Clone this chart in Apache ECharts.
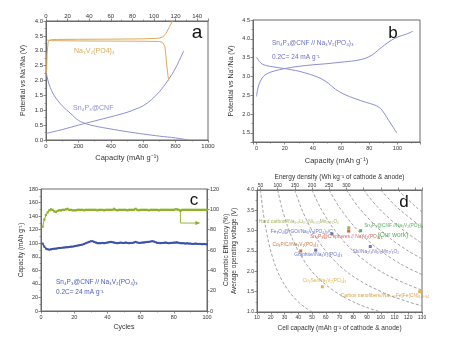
<!DOCTYPE html>
<html><head><meta charset="utf-8">
<script src="https://cdn.jsdelivr.net/npm/echarts@6/dist/echarts.min.js"></script>
<style>html,body{margin:0;padding:0;background:#fff}#c{width:451px;height:337px}</style>
</head><body><div id="c"></div>
<script>
// ---------- Panel a ----------
const aNvpCharge = [[0.5,2.25],[1,2.9],[2,3.3],[4,3.37],[10,3.38],[30,3.385],[60,3.39],[90,3.40],[104,3.42],[108,3.46],[111,3.58],[114,3.78],[117,4.0]];
const aNvpDischarge = [[1,3.36],[5,3.34],[30,3.33],[60,3.325],[90,3.32],[105,3.31],[108,3.28],[110,3.15],[111,2.85],[112,2.45],[113.5,2.0]];
const aSnDischarge = [[0,2.3],[10,2.05],[20,1.85],[50,1.5],[100,1.15],[150,0.9],[200,0.66],[250,0.54],[300,0.47],[400,0.37],[500,0.28],[600,0.2],[700,0.13],[800,0.07],[880,0.0]];
const aSnCharge = [[0,0.22],[100,0.35],[200,0.5],[300,0.64],[400,0.78],[500,0.93],[550,1.03],[600,1.15],[650,1.35],[700,1.62],[750,1.98],[800,2.42],[850,3.0]];
// ---------- Panel b ----------
const bCharge = [[0,2.47],[1,2.7],[2.4,2.85],[4,2.96],[6,3.04],[9,3.1],[13,3.15],[20,3.21],[30,3.27],[40,3.31],[50,3.34],[60,3.38],[70,3.42],[77,3.48],[82,3.57],[86,3.69],[91,3.84],[96,3.97],[101,4.06],[106,4.12],[111,4.2]];
const bDischarge = [[0,3.51],[2,3.4],[4,3.33],[7,3.29],[11,3.26],[20,3.21],[30,3.14],[40,3.03],[46,2.94],[51,2.82],[56,2.66],[62,2.53],[70,2.41],[78,2.31],[84,2.24],[88,2.15],[91,2.0],[94,1.82],[97,1.65],[99.5,1.5]];
// ---------- Panel c ----------
const cCapacity = [99.5,95,92,91,90.5,91,91.5,92,92,92.5,
 93,93,93.5,93.5,94,94,94.5,95,95,95.5,
 96,96.5,97,97.5,98,99,100,101,102,103,
 103,102,101,100,100,100,100.5,100,100.5,101,
 101.5,102,101.5,101,100.5,100,100.5,101,100.5,100.5,
 101,100.5,100,100.5,100.5,101,102,101,100.5,100.5,
 101,101,101.5,102,102,102.5,103,102.5,101.5,100.5,
 100.5,100,100.5,100.5,101,100.5,100,100.5,100.5,101,
 101,101.5,100.5,100,100,100,99.5,100,99.5,99.5,
 99,99,99.5,99,99,99,98.5,99,98.5,98.5];
const cEfficiency = [83,90,94.5,97,99,100,99.5,98,97.5,98.5,
 99,99,99.5,99.5,100,100.5,99.5,99.5,99,99,
 99,99.5,99.5,99.5,99.5,99,99.5,99.5,99.5,99.5,
 99.5,99.5,99.5,99,99.5,99.5,99.5,99,99.5,99.5,
 99.5,99.5,99.5,100.5,99.5,99,99.5,99.5,99.5,99.5,
 99.5,99,99.5,99.5,99.5,99.5,100.5,99.5,99,99.5,
 99.5,99.5,99.5,99.5,99,99.5,99.5,99.5,99.5,99.5,
 99,99.5,99.5,99.5,99.5,99.5,99.5,99.5,99.5,99.5,
 100,100,99.5,98.5,99.5,99.5,99.5,99.5,99.5,99.5,
 99.5,99.5,99.5,99.5,99.5,99.5,99.5,99.5,99.5,99.5];
const cArrow = [[84,98.5],[84,86.5],[94.5,86.5]];
// ---------- Panel d ----------
const dIsoEnergy = {
  50:[[12.5,4],[14,3.57],[16,3.13],[18,2.78],[20,2.5],[23,2.17],[26,1.92],[30,1.67],[35,1.43],[40,1.25],[45,1.11],[50,1]],
  100:[[25,4],[28,3.57],[32,3.13],[36,2.78],[40,2.5],[46,2.17],[52,1.92],[60,1.67],[70,1.43],[80,1.25],[90,1.11],[100,1]],
  150:[[37.5,4],[42,3.57],[48,3.13],[54,2.78],[60,2.5],[69,2.17],[78,1.92],[90,1.67],[105,1.43],[120,1.25],[130,1.15]],
  200:[[50,4],[56,3.57],[64,3.13],[72,2.78],[80,2.5],[92,2.17],[104,1.92],[120,1.67],[130,1.54]],
  250:[[62.5,4],[70,3.57],[80,3.13],[90,2.78],[100,2.5],[115,2.17],[130,1.92]],
  300:[[75,4],[84,3.57],[96,3.13],[108,2.78],[120,2.5],[130,2.31]],
  350:[[87.5,4],[98,3.57],[112,3.13],[126,2.78],[130,2.69]],
  400:[[100,4],[112,3.57],[128,3.13],[130,3.08]],
  450:[[112.5,4],[126,3.57],[130,3.46]]
};
const dPointCap  = [76.7, 76.7, 85.4, 64.5, 41.8, 52.7, 92.4, 57.5, 128.3];
const dPointVolt = [3.07, 2.99, 3.0, 2.92, 2.5, 2.52, 2.61, 1.62, 1.5];
const dPointColor = ['#8a9a2a','#c0392b','#2e9a3a','#3c50b0','#b5561d','#3c50b0','#5a4fa8','#d9a020','#d9a020'];
const dLabelText = ['Hard carbon//Na₁.₀Li₀.₂Ni₀.₂₅Mn₀.₇₅O₂','Sn₄P₃@C spheres // Na₃V₂(PO₄)₃','Sn₄P₃@CNF //Na₃V₂(PO₄)₃','Fe₃O₄@rGO//Na₃V₂(PO₄)₃/C','Co₃P/C//Na₃V₂(PO₄)₃','Graphite//Na₃V₂(PO₄)₃','Sb//Na₂/₃Ni₁/₃Mn₂/₃O₂','Cu₂Se//Na₃V₂(PO₄)₃','Carbon nanofibers//Na₀.₆₁Fe[Fe(CN)₆]₀.₉₄','(Our work)'];
const dLabelCap  = [11.9, 49, 88.3, 20.4, 21.6, 37.4, 79.8, 43.5, 71.3, 98];
const dLabelVolt = [3.22, 2.85, 3.10, 2.96, 2.65, 2.40, 2.47, 1.75, 1.40, 2.88];
const dLabelColor = ['#8a9a2a','#c0392b','#2e9a3a','#3c50b0','#b5561d','#3c50b0','#5a4fa8','#d9a020','#c88a20','#2e9a3a'];
const dLabelSize = [4.8,4.8,4.8,4.8,4.8,4.8,4.8,4.8,4.8,6.5];

const FONT = '"Liberation Sans", Arial, sans-serif';
const AXC = '#6a6a6a';
const TXT = '#333';
const ORANGE = '#dcaa5a', PURPLE = '#8c8fd0';
const GREEN = '#8cb028', BLUE = '#3c50aa';

function axis(o) {
  const a = {
    type:'value', gridIndex:o.grid, position:o.pos, min:o.min, max:o.max,
    name:o.name||'', nameLocation:'middle', nameGap:o.gap||15,
    nameTextStyle:{color:TXT,fontSize:o.nfs||7.5,fontFamily:FONT},
    axisLine:{show:true,onZero:false,lineStyle:{color:AXC,width:1}},
    axisTick:{show:true,inside:false,length:2.5,lineStyle:{color:AXC,width:0.8}},
    minorTick:{show:o.minor!==false,splitNumber:2,length:1.5,lineStyle:{color:AXC,width:0.6}},
    splitLine:{show:false}, minorSplitLine:{show:false},
    axisLabel:{show:true,color:TXT,fontSize:o.fs||6,fontFamily:FONT,margin:o.margin||3,
      formatter:o.fmt || (v=>String(v)),showMinLabel:true,showMaxLabel:true}
  };
  if (o.interval !== undefined) a.interval = o.interval;
  if (o.split !== undefined) a.splitNumber = o.split;
  if (o.nameRotate !== undefined) a.nameRotate = o.nameRotate;
  return a;
}
const fix1 = v => v.toFixed(1);
const gridBase = {show:true, borderColor:AXC, borderWidth:1, backgroundColor:'transparent'};

const series = [];
function line(data, xi, yi, color, w, smooth, extra) {
  series.push(Object.assign({type:'line', xAxisIndex:xi, yAxisIndex:yi, data:data, symbol:'none',
    smooth:smooth||false, lineStyle:{color:color,width:w}, itemStyle:{color:color}, silent:true, animation:false}, extra||{}));
}
// a
line(aSnDischarge, 0, 0, PURPLE, 1, 0.3);
line(aSnCharge, 0, 0, PURPLE, 1, 0.3);
line(aNvpCharge, 1, 0, ORANGE, 1, false);
line(aNvpDischarge, 1, 0, ORANGE, 1, false);
// b
line(bCharge, 2, 1, PURPLE, 1, 0.3);
line(bDischarge, 2, 1, PURPLE, 1, 0.3);
// c
line(cCapacity.map((v,i)=>[i+1,v]), 3, 2, BLUE, 1.4, false, {symbol:'rect', symbolSize:2, showSymbol:true});
line(cEfficiency.map((v,i)=>[i+1,v]), 3, 3, GREEN, 1, false, {symbol:'rect', symbolSize:2.2, showSymbol:true});
line(cArrow.map((p,i)=> i===cArrow.length-1 ? {value:p, symbol:'triangle', symbolSize:[4,5], symbolRotate:-90} : {value:p, symbol:'none'}),
  3, 3, GREEN, 0.9, false, {symbol:'none', showSymbol:true});
// d
Object.keys(dIsoEnergy).forEach(k => {
  line(dIsoEnergy[k], 4, 4, '#8a8a8a', 0.8, 0.3, {lineStyle:{color:'#8a8a8a', width:0.8, type:[3,2]}});
});
series.push({type:'scatter', xAxisIndex:4, yAxisIndex:4, symbol:'rect', symbolSize:3, silent:true, animation:false,
  data: dPointCap.map((c,i)=>({value:[c,dPointVolt[i]], itemStyle:{color:dPointColor[i]}}))});
series.push({type:'scatter', xAxisIndex:4, yAxisIndex:4, symbolSize:1, silent:true, animation:false,
  itemStyle:{color:'transparent'},
  data: dLabelCap.map((c,i)=>({value:[c,dLabelVolt[i]],
    label:{show:true, formatter:dLabelText[i], color:dLabelColor[i], fontSize:dLabelSize[i], fontFamily:FONT,
      position:[0,0], align:'left', verticalAlign:'middle'}}))});

const option = {
  animation:false,
  backgroundColor:'#fff',
  grid:[
    Object.assign({left:46, top:21, width:162, height:119}, gridBase),
    Object.assign({left:253, top:20, width:167, height:122}, gridBase),
    Object.assign({left:41, top:189, width:166, height:122}, gridBase),
    Object.assign({left:257, top:190, width:165, height:122}, gridBase)
  ],
  xAxis:[
    axis({grid:0,pos:'bottom',min:0,max:1000,interval:200,name:'Capacity (mAh g⁻¹)',gap:14,fs:6}),
    axis({grid:0,pos:'top',min:0,max:150,interval:20,fs:6,margin:2,fmt:v=> v>140?'':String(v)}),
    axis({grid:1,pos:'bottom',min:-2.5,max:116,split:6,name:'Capacity (mAh g⁻¹)',gap:15,fs:5.5,
      fmt:v=> (v>=0 && v<=100 && Math.abs(v%20)<1e-6)?String(v):''}),
    axis({grid:2,pos:'bottom',min:0,max:100,interval:20,name:'Cycles',gap:13,fs:5.5,nfs:7}),
    axis({grid:3,pos:'bottom',min:10,max:130,interval:10,name:'Cell capacity (mAh g⁻¹ of cathode & anode)',gap:13,fs:5,nfs:6.5}),
    axis({grid:3,pos:'top',min:40,max:520,split:10,minor:false,name:'Energy density (Wh kg⁻¹ of cathode & anode)',gap:9,fs:5,nfs:6.5,margin:2,
      fmt:v=> (v>=50 && v<=300 && Math.abs(v%50)<1e-6)?String(v):''})
  ],
  yAxis:[
    axis({grid:0,pos:'left',min:0,max:4,interval:0.5,name:'Potential vs Na⁺/Na (V)',gap:19,fs:6,nfs:7,fmt:fix1}),
    axis({grid:1,pos:'left',min:1.26,max:4.5,split:6,name:'Potential vs Na⁺/Na (V)',gap:18,fs:5.5,nfs:7,
      fmt:v=> (v>=1.5 && Math.abs(v*2-Math.round(v*2))<1e-6)?v.toFixed(1):''}),
    axis({grid:2,pos:'left',min:0,max:180,interval:20,name:'Capacity (mAh g⁻¹)',gap:14,fs:5.5,nfs:6.5}),
    axis({grid:2,pos:'right',min:0,max:120,interval:20,name:'Coulombic Efficiency (%)',gap:10,fs:5.5,nfs:6.5,nameRotate:90}),
    axis({grid:3,pos:'left',min:1,max:4,interval:0.5,name:'Average operating voltage (V)',gap:19,fs:5,nfs:6.5,fmt:fix1})
  ],
  graphic:[
    {type:'text', x:74, y:51, style:{text:'Na₃V₂(PO4)₃', fill:ORANGE, fontSize:7, fontFamily:FONT, align:'left', verticalAlign:'middle'}},
    {type:'text', x:73, y:108, style:{text:'Sn₄P₃@CNF', fill:PURPLE, fontSize:7, fontFamily:FONT, align:'left', verticalAlign:'middle'}},
    {type:'text', x:272, y:43, style:{text:'Sn₄P₃@CNF // Na₃V₂(PO₄)₃', fill:'#6a6fc0', fontSize:6.5, fontFamily:FONT, align:'left', verticalAlign:'middle'}},
    {type:'text', x:272, y:57, style:{text:'0.2C= 24 mA g⁻¹', fill:'#6a6fc0', fontSize:6.5, fontFamily:FONT, align:'left', verticalAlign:'middle'}},
    {type:'text', x:56, y:282, style:{text:'Sn₄P₃@CNF // Na₃V₂(PO₄)₃', fill:'#4a5bb8', fontSize:6.5, fontFamily:FONT, align:'left', verticalAlign:'middle'}},
    {type:'text', x:56, y:292, style:{text:'0.2C= 24 mA g⁻¹', fill:'#4a5bb8', fontSize:6.5, fontFamily:FONT, align:'left', verticalAlign:'middle'}},
    {type:'text', x:197, y:33, style:{text:'a', fill:'#111', fontSize:19, fontFamily:FONT, align:'center', verticalAlign:'middle'}},
    {type:'text', x:393, y:33, style:{text:'b', fill:'#111', fontSize:17, fontFamily:FONT, align:'center', verticalAlign:'middle'}},
    {type:'text', x:194, y:200, style:{text:'c', fill:'#111', fontSize:17, fontFamily:FONT, align:'center', verticalAlign:'middle'}},
    {type:'text', x:404, y:202, style:{text:'d', fill:'#111', fontSize:17, fontFamily:FONT, align:'center', verticalAlign:'middle'}}
  ],
  series: series
};
const chart = echarts.init(document.getElementById('c'), null, {renderer:'canvas'});
chart.setOption(option);
</script>
</body></html>
